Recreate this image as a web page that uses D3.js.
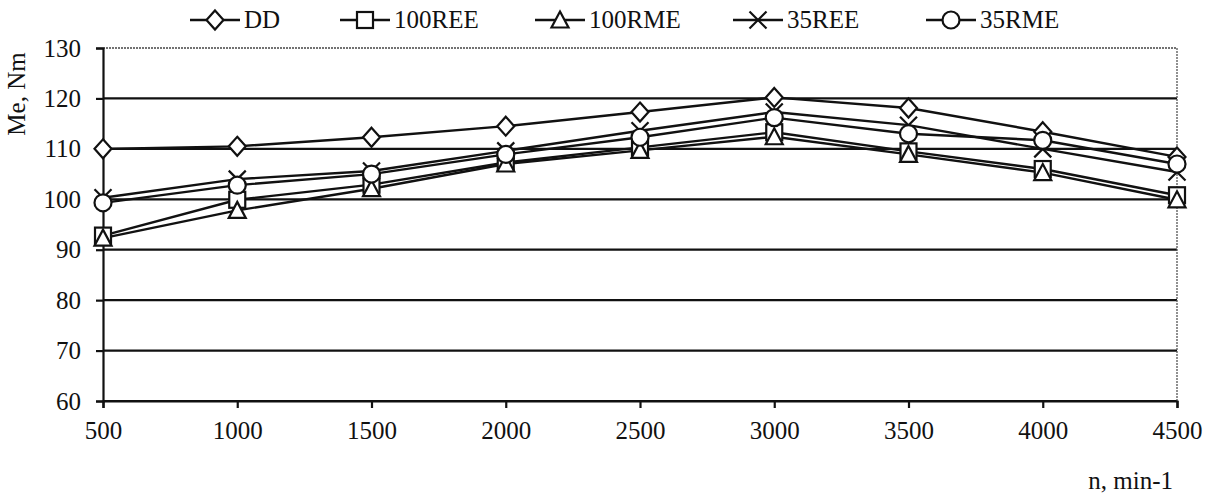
<!DOCTYPE html>
<html>
<head>
<meta charset="utf-8">
<script src="https://cdn.jsdelivr.net/npm/d3@7"></script>
<style>
  body { margin: 0; background: #fff; }
  svg text { font-family: "Liberation Serif", "DejaVu Serif", serif; fill: #111; }
</style>
</head>
<body>
<div id="chart"></div>
<script>
// engine speed, rpm
const speeds = [500, 1000, 1500, 2000, 2500, 3000, 3500, 4000, 4500];
const yTicks = [60, 70, 80, 90, 100, 110, 120, 130];

const ddValues = [110, 110.5, 112.3, 114.5, 117.3, 120.2, 118.1, 113.4, 108.4];
const ree100Values = [92.8, 99.9, 102.9, 107.3, 110.3, 113.3, 109.5, 106, 100.8];
const rme100Values = [92.3, 97.8, 102.1, 107, 109.7, 112.4, 108.9, 105.3, 99.9];
const ree35Values = [100.3, 104, 105.6, 109.6, 113.6, 117.3, 114.7, 110, 105.4];
const rme35Values = [99.3, 102.8, 105, 108.9, 112.3, 116.2, 113, 111.7, 107];

const seriesNames = ["DD", "100REE", "100RME", "35REE", "35RME"];
const seriesSymbols = ["diamond", "square", "triangle", "cross", "circle"];

const series = [ddValues, ree100Values, rme100Values, ree35Values, rme35Values].map(
  (values, i) => ({ name: seriesNames[i], symbol: seriesSymbols[i], values }),
);

const width = 1213;
const height = 493;
const margin = { top: 48, right: 36, bottom: 92, left: 103 };
const fontSize = "25px";

const svg = d3
  .select("#chart")
  .append("svg")
  .attr("width", width)
  .attr("height", height);

const x = d3.scaleLinear().domain([500, 4500]).range([margin.left, width - margin.right]);
const y = d3.scaleLinear().domain([60, 130]).range([height - margin.bottom, margin.top]);

// grid lines (top one is faint like the scan)
svg
  .append("g")
  .selectAll("line")
  .data(yTicks)
  .join("line")
  .attr("x1", x(500))
  .attr("x2", x(4500))
  .attr("y1", (d) => y(d))
  .attr("y2", (d) => y(d))
  .attr("stroke", (d) => (d === 130 ? "#444" : "#111"))
  .attr("stroke-width", (d) => (d === 130 ? 1.5 : 2.2))
  .attr("stroke-dasharray", (d) => (d === 130 ? "2,1" : null));

// right border, dotted
svg
  .append("line")
  .attr("x1", x(4500))
  .attr("x2", x(4500))
  .attr("y1", y(130))
  .attr("y2", y(60))
  .attr("stroke", "#555")
  .attr("stroke-width", 1.3)
  .attr("stroke-dasharray", "2,1");

// axes
const xAxis = svg
  .append("g")
  .attr("transform", `translate(0,${y(60)})`)
  .call(d3.axisBottom(x).tickValues(speeds).tickSize(7).tickPadding(13).tickFormat(d3.format("d")));

const yAxis = svg
  .append("g")
  .attr("transform", `translate(${x(500)},0)`)
  .call(d3.axisLeft(y).tickValues(yTicks).tickSize(7).tickPadding(15));

[xAxis, yAxis].forEach((g) => {
  g.select(".domain").attr("stroke", "#111").attr("stroke-width", 2.2);
  g.selectAll(".tick line").attr("stroke", "#111").attr("stroke-width", 2.2);
  g.selectAll(".tick text")
    .style("font-family", '"Liberation Serif", serif')
    .style("font-size", fontSize)
    .attr("fill", "#111");
});

// axis titles
svg
  .append("text")
  .attr("transform", `translate(25,94) rotate(-90)`)
  .attr("text-anchor", "middle")
  .style("font-size", fontSize)
  .text("Me, Nm");

svg
  .append("text")
  .attr("x", 1173)
  .attr("y", 489)
  .attr("text-anchor", "end")
  .style("font-size", fontSize)
  .text("n, min-1");

// markers
function drawMarker(g, symbol, cx, cy) {
  const s = 8.5;
  if (symbol === "diamond") {
    g.append("path")
      .attr("d", `M${cx},${cy - s - 1}L${cx + s},${cy}L${cx},${cy + s + 1}L${cx - s},${cy}Z`);
  } else if (symbol === "square") {
    g.append("rect")
      .attr("x", cx - s + 0.5)
      .attr("y", cy - s + 0.5)
      .attr("width", 2 * s - 1)
      .attr("height", 2 * s - 1);
  } else if (symbol === "triangle") {
    g.append("path")
      .attr("d", `M${cx},${cy - s}L${cx + s},${cy + s - 1}L${cx - s},${cy + s - 1}Z`);
  } else if (symbol === "cross") {
    g.append("path")
      .attr("d", `M${cx - s},${cy - s}L${cx + s},${cy + s}M${cx + s},${cy - s}L${cx - s},${cy + s}`)
      .attr("fill", "none");
  } else {
    g.append("circle").attr("cx", cx).attr("cy", cy).attr("r", s);
  }
}

const line = d3
  .line()
  .x((d, i) => x(speeds[i]))
  .y((d) => y(d));

const seriesG = svg.append("g");
series.forEach((s) => {
  seriesG
    .append("path")
    .datum(s.values)
    .attr("d", line)
    .attr("fill", "none")
    .attr("stroke", "#111")
    .attr("stroke-width", 2.4);
});

series.forEach((s) => {
  const mg = seriesG
    .append("g")
    .attr("fill", "#fff")
    .attr("stroke", "#111")
    .attr("stroke-width", 2.2);
  s.values.forEach((v, i) => drawMarker(mg, s.symbol, x(speeds[i]), y(v)));
});

// legend
const legendX = [190, 340, 535, 733, 926];
const legend = svg.append("g");
series.forEach((s, i) => {
  const lx = legendX[i];
  const ly = 20;
  legend
    .append("line")
    .attr("x1", lx)
    .attr("x2", lx + 50)
    .attr("y1", ly)
    .attr("y2", ly)
    .attr("stroke", "#111")
    .attr("stroke-width", 2.4);
  const mg = legend
    .append("g")
    .attr("fill", "#fff")
    .attr("stroke", "#111")
    .attr("stroke-width", 2.2);
  drawMarker(mg, s.symbol, lx + 25, ly);
  legend
    .append("text")
    .attr("x", lx + 54)
    .attr("y", ly + 8)
    .style("font-size", fontSize)
    .text(s.name);
});
</script>
</body>
</html>
